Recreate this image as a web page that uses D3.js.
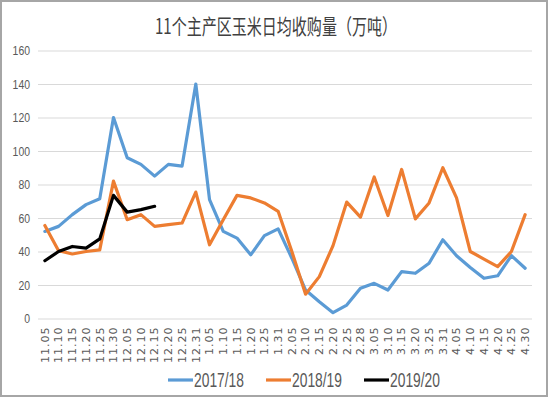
<!DOCTYPE html>
<html>
<head>
<meta charset="utf-8">
<script src="https://cdn.jsdelivr.net/npm/d3@7"></script>
<style>
  body { margin: 0; background: #fff; }
  text { font-family: "Liberation Sans", "Noto Sans CJK SC", sans-serif; fill: #595959; }
</style>
</head>
<body>
<div id="chart"></div>
<script>
// categories (dates)
var dates = ["11.05", "11.10", "11.15", "11.20", "11.25", "11.30", "12.05", "12.10", "12.15",
    "12.20", "12.25", "12.31", "1.05", "1.10", "1.15", "1.20", "1.25", "1.31", "2.05", "2.10",
    "2.15", "2.20", "2.25", "2.28", "3.05", "3.10", "3.15", "3.20", "3.25", "3.31", "4.05",
    "4.10", "4.15", "4.20", "4.25", "4.30"];

// series values
var s2017 = [52, 55, 62, 68, 71.5, 120, 96, 92, 85, 92, 91, 140, 71, 52, 48, 38, 49.5, 53.5,
    36, 17, 10, 3.5, 8, 18, 21, 17, 28, 27, 33, 47, 37.5, 30.5, 24, 25.5, 37.5, 30];
var s2018 = [55.5, 40.5, 38.5, 40, 41, 82, 59, 62, 55, 56, 57, 75.5, 44, 59, 73.5, 72, 69, 64,
    40, 14.5, 25, 43.5, 69.5, 60.5, 84.5, 61.5, 89, 59.5, 69, 90, 72, 40, 35.5, 31, 40, 62];
var s2019 = [34.5, 40, 43, 42, 47.5, 73.5, 63.5, 65, 67];

var yTicks = [0, 20, 40, 60, 80, 100, 120, 140, 160];

var series = [
    { name: "2017/18", values: s2017, color: "#5b9bd5" },
    { name: "2018/19", values: s2018, color: "#ed7d31" },
    { name: "2019/20", values: s2019, color: "#000000" }
];

var W = 550, H = 398;
var plot = { left: 38, right: 532, top: 50.5, bottom: 318.5 };

var svg = d3.select("#chart").append("svg")
    .attr("width", W)
    .attr("height", H);

// outer frame
svg.append("rect")
    .attr("x", 1).attr("y", 1)
    .attr("width", 546).attr("height", 395)
    .attr("fill", "#fff")
    .attr("stroke", "#a6a6a6")
    .attr("stroke-width", 2);

// title
svg.append("text")
    .attr("x", 276)
    .attr("y", 34)
    .attr("text-anchor", "middle")
    .attr("font-size", 21)
    .attr("textLength", 242)
    .attr("lengthAdjust", "spacingAndGlyphs")
    .style("font-family", "'Noto Sans CJK SC', sans-serif")
    .style("fill", "#404040")
    .text("11个主产区玉米日均收购量（万吨）");

// scales
var x = d3.scaleBand().domain(dates).range([plot.left, plot.right]);
var y = d3.scaleLinear().domain([0, 160]).range([plot.bottom, plot.top]);

// y axis with gridlines
var yAxis = svg.append("g")
    .attr("transform", "translate(" + plot.left + ",0)")
    .call(d3.axisLeft(y).tickValues(yTicks).tickSize(-(plot.right - plot.left)).tickPadding(8));
yAxis.select(".domain").remove();
yAxis.selectAll(".tick line").attr("stroke", "#d9d9d9").attr("stroke-width", 1.2);
yAxis.selectAll(".tick text")
    .attr("font-size", 13)
    .attr("textLength", function (d) { return String(d).length * 5.8; })
    .attr("lengthAdjust", "spacingAndGlyphs")
    .style("font-family", "'Liberation Sans', sans-serif")
    .attr("fill", "#595959");

// x axis labels, rotated
var xAxis = svg.append("g")
    .attr("transform", "translate(0," + plot.bottom + ")")
    .call(d3.axisBottom(x).tickSize(0).tickPadding(0));
xAxis.select(".domain").remove();
xAxis.selectAll(".tick text")
    .attr("transform", "translate(0,8) rotate(-90)")
    .attr("text-anchor", "end")
    .attr("x", 0)
    .attr("y", 0)
    .attr("dy", "0.35em")
    .attr("font-size", 11)
    .attr("letter-spacing", 1)
    .style("font-family", "'DejaVu Sans', sans-serif")
    .attr("fill", "#595959");

// lines
var line = d3.line()
    .x(function (d, i) { return x(dates[i]) + x.bandwidth() / 2; })
    .y(function (d) { return y(d); });

series.forEach(function (s) {
    svg.append("path")
        .datum(s.values)
        .attr("fill", "none")
        .attr("stroke", s.color)
        .attr("stroke-width", 3.2)
        .attr("stroke-linejoin", "round")
        .attr("stroke-linecap", "round")
        .attr("d", line);
});

// legend
var legendX = [168, 266, 364];
series.forEach(function (s, i) {
    var g = svg.append("g").attr("transform", "translate(" + legendX[i] + ",380)");
    g.append("line")
        .attr("x1", 0).attr("x2", 25)
        .attr("y1", 0).attr("y2", 0)
        .attr("stroke", s.color)
        .attr("stroke-width", 3.2);
    g.append("text")
        .attr("x", 26)
        .attr("y", 7)
        .attr("font-size", 20)
        .attr("textLength", 50)
        .attr("lengthAdjust", "spacingAndGlyphs")
        .text(s.name);
});
</script>
</body>
</html>
